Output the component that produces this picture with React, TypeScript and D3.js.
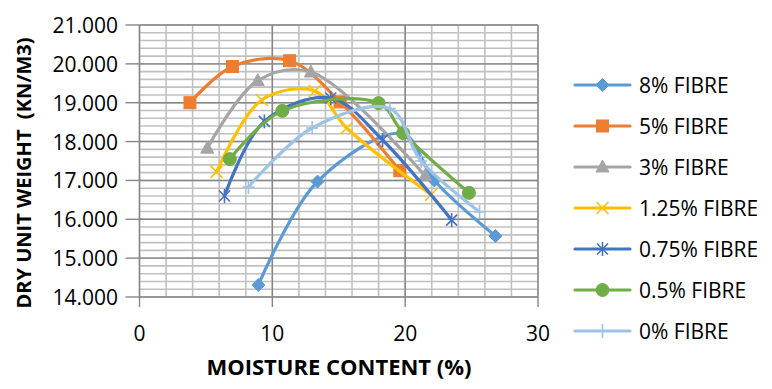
import React from "react";
import * as d3 from "d3";

type Pt = [number, number];

const seriesNames = ["8% FIBRE", "5% FIBRE", "3% FIBRE", "1.25% FIBRE", "0.75% FIBRE", "0.5% FIBRE", "0% FIBRE"];
const seriesColors = ["#5B9BD5", "#ED7D31", "#A5A5A5", "#FFC000", "#4472C4", "#70AD47", "#9DC3E6"];
const seriesMarkers = ["diamond", "square", "triangle", "x", "star", "circle", "plus"];

const fibre8: Pt[] = [[8.95, 14.31], [13.4, 16.97], [19.8, 18.2], [22.2, 17.0], [26.8, 15.57]];
const fibre5: Pt[] = [[3.8, 19.0], [7.0, 19.93], [11.3, 20.08], [15.1, 19.02], [19.6, 17.25]];
const fibre3: Pt[] = [[5.1, 17.83], [8.9, 19.57], [12.9, 19.79], [21.5, 17.12]];
const fibre125: Pt[] = [[5.8, 17.22], [9.2, 19.07], [13.2, 19.3], [15.6, 18.35], [21.95, 16.63]];
const fibre075: Pt[] = [[6.4, 16.6], [9.4, 18.52], [14.4, 19.12], [18.3, 18.04], [23.5, 15.98]];
const fibre05: Pt[] = [[6.8, 17.55], [10.75, 18.79], [18.0, 18.99], [19.85, 18.22], [24.8, 16.68]];
const fibre0: Pt[] = [[8.2, 16.83], [13.0, 18.35], [18.85, 18.85], [21.2, 17.5], [25.6, 16.19]];

const seriesData = [fibre8, fibre5, fibre3, fibre125, fibre075, fibre05, fibre0];

const yTicks = [14, 15, 16, 17, 18, 19, 20, 21];
const xTicks = [0, 10, 20, 30];

const FONT = "'Open Sans', 'Liberation Sans', sans-serif";

function Marker({ type, cx, cy, color }: { type: string; cx: number; cy: number; color: string }) {
  switch (type) {
    case "diamond":
      return <path d={`M${cx},${cy - 6.5}L${cx + 6.5},${cy}L${cx},${cy + 6.5}L${cx - 6.5},${cy}Z`} fill={color} stroke={color} strokeWidth={1} />;
    case "square":
      return <rect x={cx - 6} y={cy - 6} width={12} height={12} fill={color} stroke={color} strokeWidth={1} />;
    case "triangle":
      return <path d={`M${cx},${cy - 7}L${cx + 6.5},${cy + 5}L${cx - 6.5},${cy + 5}Z`} fill={color} stroke={color} strokeWidth={1} />;
    case "x":
      return (
        <g stroke={color} strokeWidth={1.6}>
          <line x1={cx - 6} y1={cy - 6} x2={cx + 6} y2={cy + 6} />
          <line x1={cx - 6} y1={cy + 6} x2={cx + 6} y2={cy - 6} />
        </g>
      );
    case "star":
      return (
        <g stroke={color} strokeWidth={1.6}>
          <line x1={cx - 5.5} y1={cy - 5.5} x2={cx + 5.5} y2={cy + 5.5} />
          <line x1={cx - 5.5} y1={cy + 5.5} x2={cx + 5.5} y2={cy - 5.5} />
          <line x1={cx} y1={cy - 7} x2={cx} y2={cy + 7} />
        </g>
      );
    case "circle":
      return <circle cx={cx} cy={cy} r={6.5} fill={color} stroke={color} strokeWidth={1} />;
    case "plus":
      return (
        <g stroke={color} strokeWidth={1.6}>
          <line x1={cx - 6} y1={cy} x2={cx + 6} y2={cy} />
          <line x1={cx} y1={cy - 7} x2={cx} y2={cy + 7} />
        </g>
      );
    default:
      return null;
  }
}

export default function App() {
  const W = 772;
  const H = 389;
  const left = 139.5;
  const right = 538;
  const top = 25;
  const bottom = 297;

  const x = d3.scaleLinear().domain([0, 30]).range([left, right]);
  const y = d3.scaleLinear().domain([14, 21]).range([bottom, top]);

  const line = d3
    .line<Pt>()
    .x((d) => x(d[0]))
    .y((d) => y(d[1]))
    .curve(d3.curveCatmullRom.alpha(0.5));

  const xMinor = d3.range(0, 30.001, 2);
  const yMinor = d3.range(14, 21.001, 0.2);

  const legendX = 575;
  const legendY0 = 85;
  const legendStep = 41;

  return (
    <svg width={W} height={H} style={{ position: "absolute", left: 0, top: 0, background: "#fff" }}>
      <rect x={0} y={0} width={W} height={H} fill="#fff" />
      {/* minor grid */}
      <g stroke="#C0C0C0" strokeWidth={1.6}>
        {yMinor.map((v, i) => (
          <line key={"ym" + i} x1={left} x2={right} y1={y(v)} y2={y(v)} />
        ))}
        {xMinor.map((v, i) => (
          <line key={"xm" + i} x1={x(v)} x2={x(v)} y1={top} y2={bottom} />
        ))}
      </g>
      {/* major grid */}
      <g stroke="#868686" strokeWidth={1.4}>
        {yTicks.map((v) => (
          <line key={"yM" + v} x1={left} x2={right} y1={y(v)} y2={y(v)} />
        ))}
        {xTicks.map((v) => (
          <line key={"xM" + v} x1={x(v)} x2={x(v)} y1={top} y2={bottom} />
        ))}
      </g>
      {/* axes ticks */}
      <g stroke="#868686" strokeWidth={1.4}>
        {yTicks.map((v) => (
          <line key={"yt" + v} x1={left - 14} x2={left} y1={y(v)} y2={y(v)} />
        ))}
        {xTicks.map((v) => (
          <line key={"xt" + v} x1={x(v)} x2={x(v)} y1={bottom} y2={bottom + 10} />
        ))}
      </g>
      {/* tick labels */}
      <g fontFamily={FONT} fontSize={21} fill="#000">
        {yTicks.map((v) => (
          <text key={"yl" + v} x={118} y={y(v)} textAnchor="end" dominantBaseline="central">
            {d3.format(".3f")(v)}
          </text>
        ))}
        {xTicks.map((v) => (
          <text key={"xl" + v} x={x(v)} y={333} textAnchor="middle" dominantBaseline="central">
            {v}
          </text>
        ))}
      </g>
      {/* axis titles */}
      <text
        x={339}
        y={366}
        textAnchor="middle"
        dominantBaseline="central"
        fontFamily={FONT}
        fontWeight="bold"
        fontSize={22}
      >
        MOISTURE CONTENT (%)
      </text>
      <text
        transform={`translate(23,173) rotate(-90)`}
        textAnchor="middle"
        dominantBaseline="central"
        fontFamily={FONT}
        fontWeight="bold"
        fontSize={20}
        style={{ whiteSpace: "pre" }}
      >
        {"DRY UNIT WEIGHT  (KN/M3)"}
      </text>
      {/* series */}
      {seriesData.map((data, i) => (
        <g key={"s" + i}>
          <path d={line(data) || ""} fill="none" stroke={seriesColors[i]} strokeWidth={3.2} strokeLinejoin="round" strokeLinecap="round" />
          {data.map((d, j) => (
            <Marker key={j} type={seriesMarkers[i]} cx={x(d[0])} cy={y(d[1])} color={seriesColors[i]} />
          ))}
        </g>
      ))}
      {/* legend */}
      {seriesNames.map((name, i) => {
        const ly = legendY0 + i * legendStep;
        return (
          <g key={"lg" + i}>
            <line x1={legendX} x2={legendX + 55} y1={ly} y2={ly} stroke={seriesColors[i]} strokeWidth={3.2} strokeLinecap="round" />
            <Marker type={seriesMarkers[i]} cx={legendX + 27.5} cy={ly} color={seriesColors[i]} />
            <text x={639} y={ly} dominantBaseline="central" fontFamily={FONT} fontSize={21} fill="#000">
              {name}
            </text>
          </g>
        );
      })}
    </svg>
  );
}
